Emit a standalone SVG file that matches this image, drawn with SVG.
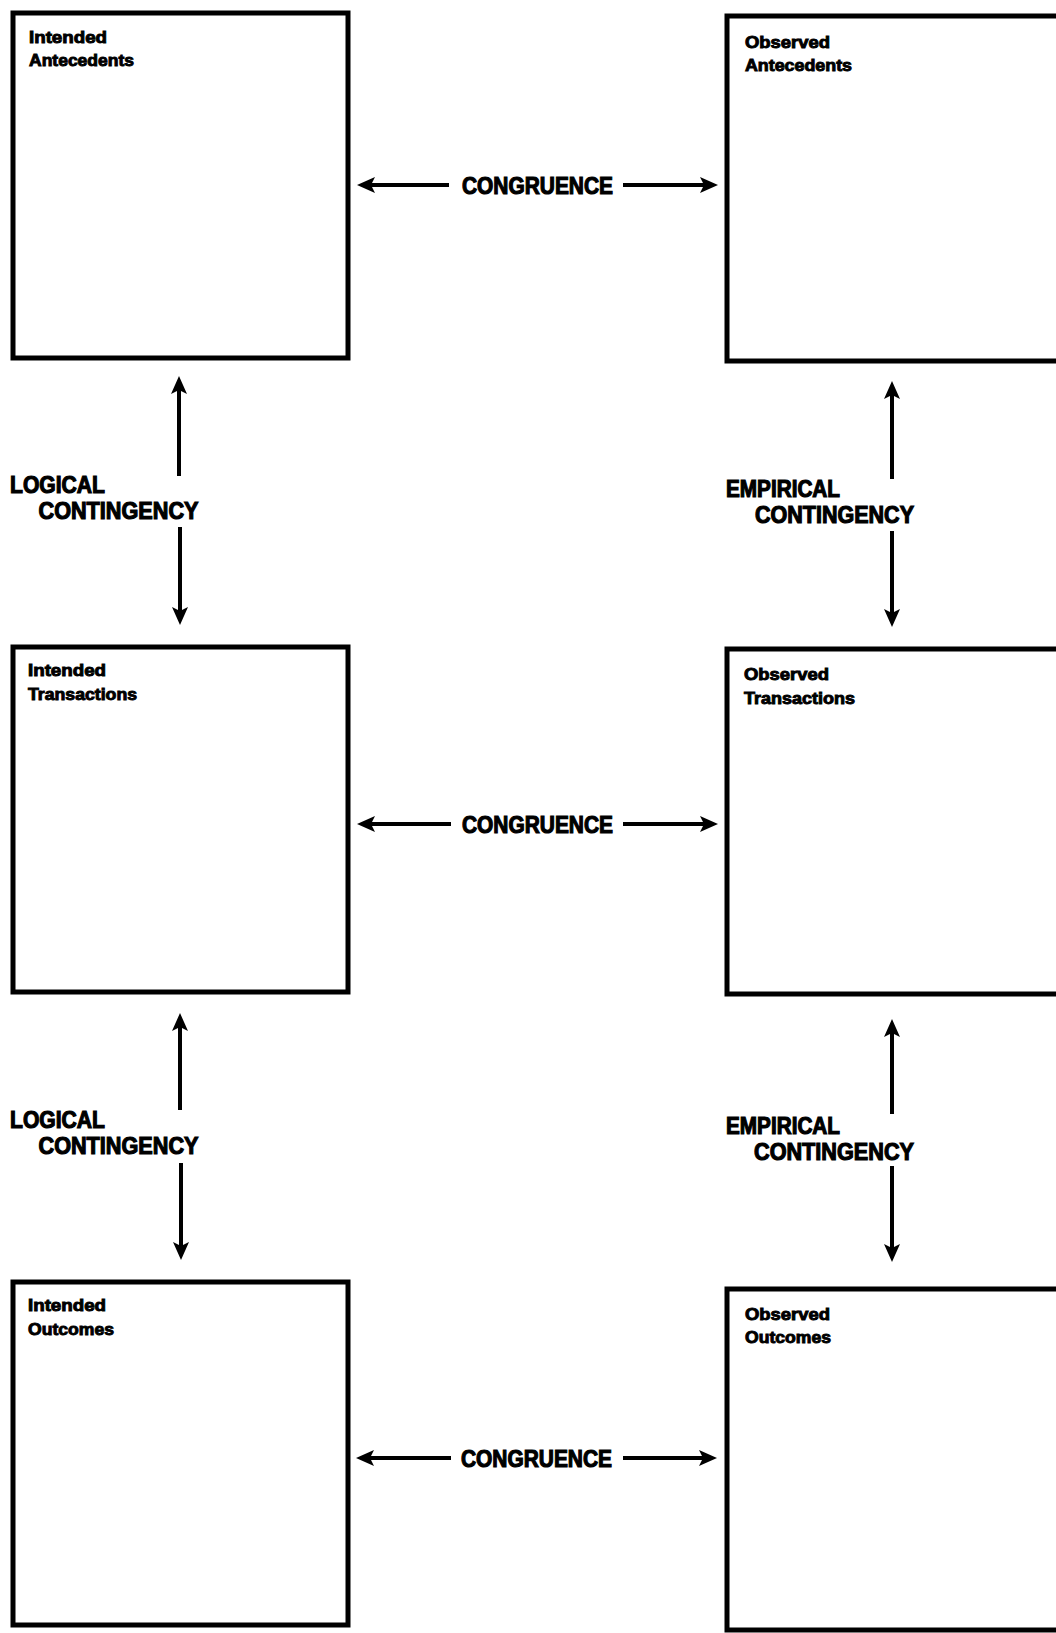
<svg xmlns="http://www.w3.org/2000/svg" width="1056" height="1633" viewBox="0 0 1056 1633">
<style>
.box{fill:none;stroke:#000;stroke-width:5}
.lbl{font-family:"Liberation Sans",Arial,sans-serif;font-weight:bold;font-size:16px;fill:#000;stroke:#000;stroke-width:0.9}
.big{font-family:"Liberation Sans",Arial,sans-serif;font-weight:bold;font-size:24px;fill:#000;stroke:#000;stroke-width:1.2}
.con{stroke:#000;stroke-width:4;fill:none;marker-end:url(#ah)}
</style>
<defs>
<marker id="ah" markerUnits="userSpaceOnUse" markerWidth="18" markerHeight="16" viewBox="0 0 18 16" refX="4" refY="8" orient="auto">
<path d="M0,0 L18,8 L0,16 L4,8 z" fill="#000"/>
</marker>
</defs>
<rect width="1056" height="1633" fill="#fff"/>
<g id="intended-antecedents">
<rect class="box" x="13" y="13" width="335" height="345"/>
<text class="lbl" x="29" y="42.5" textLength="78" lengthAdjust="spacingAndGlyphs">Intended</text>
<text class="lbl" x="29" y="66" textLength="105" lengthAdjust="spacingAndGlyphs">Antecedents</text>
</g>
<g id="observed-antecedents">
<rect class="box" x="727" y="16" width="360" height="345"/>
<text class="lbl" x="745" y="47.5" textLength="85" lengthAdjust="spacingAndGlyphs">Observed</text>
<text class="lbl" x="745" y="70.5" textLength="107" lengthAdjust="spacingAndGlyphs">Antecedents</text>
</g>
<g id="intended-transactions">
<rect class="box" x="13" y="647" width="335" height="345"/>
<text class="lbl" x="28" y="675.5" textLength="78" lengthAdjust="spacingAndGlyphs">Intended</text>
<text class="lbl" x="28" y="699.5" textLength="109" lengthAdjust="spacingAndGlyphs">Transactions</text>
</g>
<g id="observed-transactions">
<rect class="box" x="727" y="649" width="360" height="345"/>
<text class="lbl" x="744" y="680" textLength="85" lengthAdjust="spacingAndGlyphs">Observed</text>
<text class="lbl" x="744" y="704" textLength="111" lengthAdjust="spacingAndGlyphs">Transactions</text>
</g>
<g id="intended-outcomes">
<rect class="box" x="13" y="1282" width="335" height="343"/>
<text class="lbl" x="28" y="1311" textLength="78" lengthAdjust="spacingAndGlyphs">Intended</text>
<text class="lbl" x="28" y="1335" textLength="86" lengthAdjust="spacingAndGlyphs">Outcomes</text>
</g>
<g id="observed-outcomes">
<rect class="box" x="727" y="1289" width="360" height="341"/>
<text class="lbl" x="745" y="1320" textLength="85" lengthAdjust="spacingAndGlyphs">Observed</text>
<text class="lbl" x="745" y="1343" textLength="86" lengthAdjust="spacingAndGlyphs">Outcomes</text>
</g>
<g id="connectors">
<line class="con" x1="449" y1="185" x2="371" y2="185"/>
<line class="con" x1="623" y1="185" x2="704" y2="185"/>
<line class="con" x1="451" y1="824" x2="371" y2="824"/>
<line class="con" x1="623" y1="824" x2="704" y2="824"/>
<line class="con" x1="451" y1="1458" x2="370" y2="1458"/>
<line class="con" x1="623" y1="1458" x2="703" y2="1458"/>
<line class="con" x1="179" y1="476" x2="179" y2="390"/>
<line class="con" x1="180" y1="527" x2="180" y2="611"/>
<line class="con" x1="180" y1="1110" x2="180" y2="1027"/>
<line class="con" x1="181" y1="1163" x2="181" y2="1246"/>
<line class="con" x1="892" y1="479" x2="892" y2="395"/>
<line class="con" x1="892" y1="531" x2="892" y2="613"/>
<line class="con" x1="892" y1="1114" x2="892" y2="1033"/>
<line class="con" x1="892" y1="1166" x2="892" y2="1248"/>
<text class="big" x="462" y="194" font-size="25" textLength="151" lengthAdjust="spacingAndGlyphs">CONGRUENCE</text>
<text class="big" x="462" y="833" font-size="25" textLength="151" lengthAdjust="spacingAndGlyphs">CONGRUENCE</text>
<text class="big" x="461" y="1467" font-size="25" textLength="151" lengthAdjust="spacingAndGlyphs">CONGRUENCE</text>
<text class="big" x="10" y="492.5" textLength="95" lengthAdjust="spacingAndGlyphs">LOGICAL</text>
<text class="big" x="38.5" y="518.5" textLength="160" lengthAdjust="spacingAndGlyphs">CONTINGENCY</text>
<text class="big" x="10" y="1128" textLength="95" lengthAdjust="spacingAndGlyphs">LOGICAL</text>
<text class="big" x="38.5" y="1154" textLength="160" lengthAdjust="spacingAndGlyphs">CONTINGENCY</text>
<text class="big" x="726" y="496.5" textLength="114" lengthAdjust="spacingAndGlyphs">EMPIRICAL</text>
<text class="big" x="755" y="522.5" textLength="159" lengthAdjust="spacingAndGlyphs">CONTINGENCY</text>
<text class="big" x="726" y="1133.5" textLength="114" lengthAdjust="spacingAndGlyphs">EMPIRICAL</text>
<text class="big" x="754" y="1159.5" textLength="160" lengthAdjust="spacingAndGlyphs">CONTINGENCY</text>
</g>
</svg>
